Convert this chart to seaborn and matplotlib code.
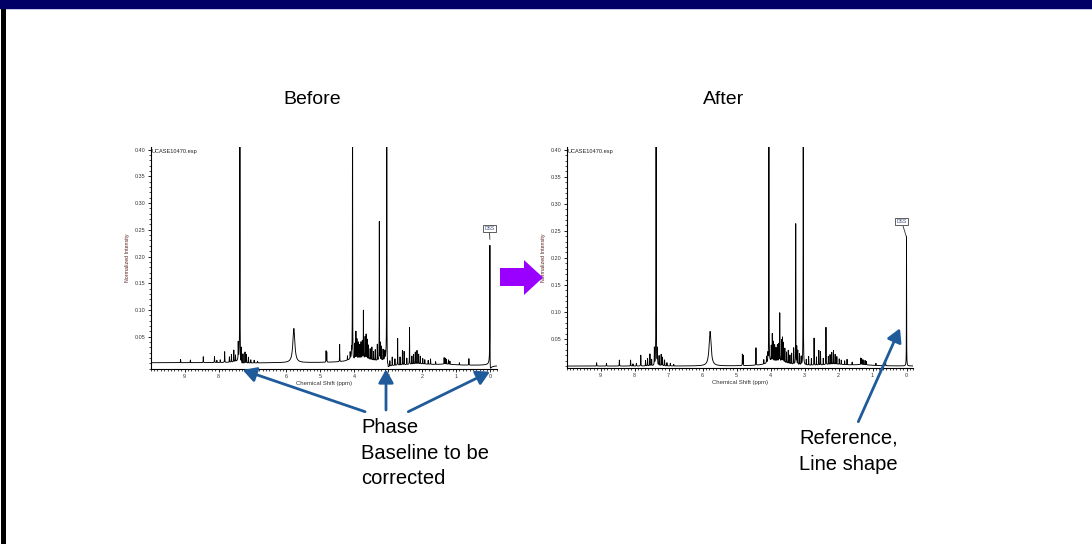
import numpy as np
import pandas as pd
import matplotlib
matplotlib.use("Agg")
import matplotlib.pyplot as plt
from matplotlib.patches import Rectangle, Polygon, FancyArrowPatch
from matplotlib.ticker import MultipleLocator, FixedLocator, FixedFormatter
import seaborn as sns

# ---- 1H NMR peak table (shift in ppm, normalized height, half-width in ppm) ----
shift_ppm = [9.12, 8.83, 8.45, 8.12, 8.05, 7.95, 7.82, 7.68, 7.62, 7.55, 7.50,
             7.42, 7.37, 7.33, 7.28, 7.22, 7.18, 7.12, 7.05, 6.95, 6.85,
             5.78, 4.83, 4.81, 4.43, 4.20, 4.12, 4.08, 4.05, 3.98, 3.95,
             3.92, 3.88, 3.84, 3.80, 3.76, 3.73, 3.68, 3.65, 3.62, 3.58,
             3.53, 3.48, 3.43, 3.38, 3.32, 3.26, 3.23, 3.20, 3.15, 3.10,
             3.04, 2.95, 2.88, 2.80, 2.72, 2.65, 2.58, 2.53, 2.45, 2.37,
             2.30, 2.25, 2.20, 2.15, 2.10, 2.05, 1.98, 1.92, 1.82, 1.75,
             1.60, 1.35, 1.32, 1.28, 1.22, 1.18, 0.90, 0.62, 0.00]
height_after = [0.006, 0.005, 0.011, 0.011, 0.004, 0.005, 0.020, 0.010, 0.014, 0.022, 0.012,
                0.032, 0.500, 0.030, 0.018, 0.021, 0.016, 0.011, 0.006, 0.005, 0.003,
                0.064, 0.021, 0.019, 0.032, 0.008, 0.012, 0.014, 0.600, 0.028, 0.050,
                0.036, 0.030, 0.025, 0.030, 0.032, 0.089, 0.040, 0.045, 0.036, 0.026,
                0.020, 0.024, 0.016, 0.020, 0.030, 0.260, 0.032, 0.026, 0.020, 0.015,
                0.700, 0.010, 0.016, 0.012, 0.050, 0.015, 0.027, 0.025, 0.012, 0.069,
                0.015, 0.018, 0.022, 0.025, 0.018, 0.014, 0.010, 0.008, 0.007, 0.010,
                0.005, 0.012, 0.011, 0.009, 0.008, 0.006, 0.004, 0.012, 0.240]
half_width = [0.004] * 21 + [0.035] + [0.003] * 56 + [0.004, 0.003]

# broad envelopes beneath the crowded 3-4 ppm region and the aliphatic tail
broad_shift = [3.75, 4.00, 2.10, 1.30]
broad_height = [0.008, 0.004, 0.003, 0.002]
broad_width = [0.30, 0.12, 0.40, 0.30]

# unprocessed spectrum: phase errors on the strongest lines, weaker DSS, baseline offset
phase_shift = [7.37, 4.05, 3.04, 0.00]
phase_angle = [0.12, 0.08, 0.15, 0.30]
dss_height_before = 0.23
baseline_before = [0.001, -0.004]     # offset above / below 3 ppm

x_ticks = [9, 8, 7, 6, 5, 4, 3, 2, 1, 0]
y_ticks = [0.05, 0.10, 0.15, 0.20, 0.25, 0.30, 0.35, 0.40]
y_tick_labels = ["0.05", "0.10", "0.15", "0.20", "0.25", "0.30", "0.35", "0.40"]

ppm = np.linspace(10.0, -0.2, 40801)


def build_spectrum(heights, phases):
    y = np.zeros_like(ppm)
    for s, h, w in zip(shift_ppm, heights, half_width):
        u = (ppm - s) / w
        phi = phases.get(s, 0.0)
        y += h * (np.cos(phi) + np.sin(phi) * u) / (1.0 + u * u)
    for s, h, w in zip(broad_shift, broad_height, broad_width):
        u = (ppm - s) / w
        y += h / (1.0 + u * u)
    return y


after = build_spectrum(height_after, {})
heights_before = list(height_after)
heights_before[-1] = dss_height_before
before = build_spectrum(heights_before, dict(zip(phase_shift, phase_angle)))
before = before + np.where(ppm > 3.0, baseline_before[0], baseline_before[1])

sns.set_theme(style="white")
plt.rcParams["font.family"] = ["Liberation Sans", "DejaVu Sans"]

W, H = 1092, 544
fig = plt.figure(figsize=(W / 100, H / 100), dpi=100)
fig.patch.set_facecolor("white")


def px_rect(left, top, right, bottom):
    return [left / W, 1 - bottom / H, (right - left) / W, (bottom - top) / H]


panels = [
    (px_rect(150.7, 147, 496.7, 368.7), before, -0.010, "Chemical Shift (ppm)", 0.02, 0.2526, 0.232),
    (px_rect(566.7, 147, 913.3, 367.7), after, -0.003, "Chemical Shift (ppm)", 0.14, 0.2669, 0.238),
]

for rect, spec, ymin, xlabel, dss_tx, dss_ty, dss_top in panels:
    ax = fig.add_axes(rect)
    df = pd.DataFrame({"ppm": ppm, "intensity": spec})
    sns.lineplot(data=df, x="ppm", y="intensity", ax=ax, color="black",
                 linewidth=0.65, estimator=None, sort=False)
    ax.set_xlim(10.0, -0.2)
    ax.set_ylim(ymin, 0.405)
    ax.set_facecolor("white")
    sns.despine(ax=ax)
    for side in ("left", "bottom"):
        ax.spines[side].set_linewidth(0.8)
        ax.spines[side].set_color("black")
    ax.xaxis.set_major_locator(FixedLocator(x_ticks))
    ax.xaxis.set_major_formatter(FixedFormatter([str(t) for t in x_ticks]))
    ax.xaxis.set_minor_locator(MultipleLocator(0.1))
    ax.yaxis.set_major_locator(FixedLocator(y_ticks))
    ax.yaxis.set_major_formatter(FixedFormatter(y_tick_labels))
    ax.yaxis.set_minor_locator(MultipleLocator(0.01))
    ax.tick_params(which="major", direction="out", length=2.4, width=0.6,
                   labelsize=3.9, labelcolor="#333333", pad=1.5, color="black",
                   bottom=True, left=True)
    ax.tick_params(which="minor", direction="out", length=1.3, width=0.5,
                   color="black", bottom=True, left=True)
    ax.set_xlabel(xlabel, fontsize=4.3, color="#333333", labelpad=1.5)
    ax.set_ylabel("Normalized Intensity", fontsize=3.8, color="#5a1e1e", labelpad=3)
    ax.text(0.004, 0.993, "UCASE10470.esp", transform=ax.transAxes,
            fontsize=4.1, color="#222222", va="top", ha="left")
    ax.annotate("DSS", xy=(0.0, dss_top), xytext=(dss_tx, dss_ty),
                fontsize=3.6, color="#3a4a7a", ha="center", va="center",
                bbox=dict(boxstyle="square,pad=0.25", fc="white", ec="#444444", lw=0.6),
                arrowprops=dict(arrowstyle="-", lw=0.6, color="#333333",
                                shrinkA=0, shrinkB=0))

# ---- slide layer: header bar, border, titles, callout arrows ----
ov = fig.add_axes([0, 0, 1, 1], zorder=10)
ov.set_xlim(0, W)
ov.set_ylim(H, 0)
ov.axis("off")
ov.patch.set_alpha(0)

ov.add_patch(Rectangle((0, 0), W, 9, color="#000066", lw=0))
ov.add_patch(Rectangle((0, 9), W, 1.2, color="#c4c4ec", lw=0))
ov.add_patch(Rectangle((1, 9), 5, H - 9, color="black", lw=0))

ov.text(312, 99, "Before", fontsize=14, ha="center", va="center", color="black")
ov.text(724, 99, "After", fontsize=14, ha="center", va="center", color="black")

ov.text(361, 418, "Phase\nBaseline to be\ncorrected", fontsize=14.5,
        ha="left", va="top", linespacing=1.45, color="black")
ov.text(799, 429, "Reference,\nLine shape", fontsize=14.5,
        ha="left", va="top", linespacing=1.45, color="black")

arrow_blue = "#1f5b9a"
for (x0, y0), (x1, y1) in [((365, 411.7), (242.7, 370)),
                           ((386, 410), (386, 369.3)),
                           ((408.3, 411.7), (490, 371.7)),
                           ((858.3, 421.7), (900, 328.3))]:
    ov.add_patch(FancyArrowPatch((x0, y0), (x1, y1),
                                 arrowstyle="-|>,head_length=0.8,head_width=0.45",
                                 mutation_scale=10, lw=2.0, color=arrow_blue,
                                 shrinkA=0, shrinkB=0))

ov.add_patch(Polygon([(500, 268), (524, 268), (524, 260), (543, 277.5),
                      (524, 295), (524, 286), (500, 286)],
                     closed=True, color="#9900ff", lw=0))

fig.savefig("out.png", dpi=100, facecolor="white")
